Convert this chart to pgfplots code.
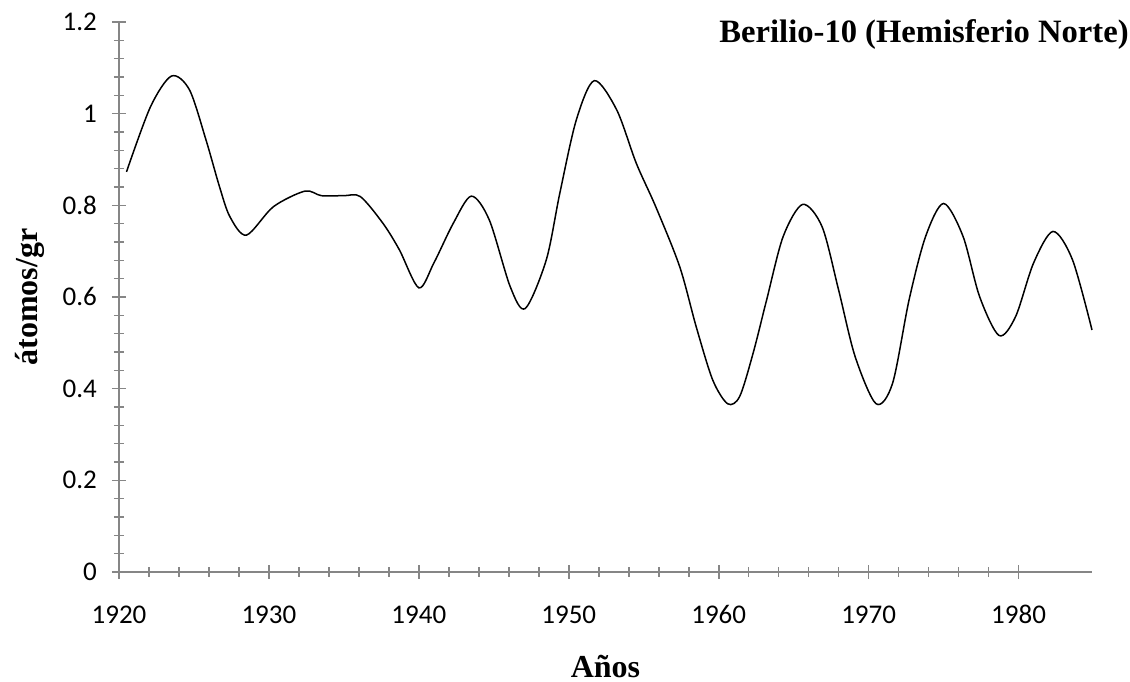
\documentclass[border=0pt]{standalone}
\usepackage{pgfplots}
\pgfplotsset{compat=1.18}
\usepackage{fontspec}
\setmainfont{Carlito}
\newfontfamily\timesbf{Liberation Serif}
\definecolor{axgray}{HTML}{868686}
\newcommand\tkf{\fontsize{13.5}{15}\selectfont}

\begin{document}
\begin{tikzpicture}
\begin{axis}[
  name=ax,
  scale only axis,
  width=486.5pt, height=275pt,
  xmin=1920, xmax=1984.9,
  ymin=0, ymax=1.2,
  axis x line*=bottom,
  axis y line*=left,
  axis line style={axgray, line width=1pt},
  xtick={1920,1930,1940,1950,1960,1970,1980},
  xticklabels={{\tkf 1920},{\tkf 1930},{\tkf 1940},{\tkf 1950},{\tkf 1960},{\tkf 1970},{\tkf 1980}},
  ytick={0,0.2,0.4,0.6,0.8,1,1.2},
  yticklabels={{\tkf 0},{\tkf 0.2},{\tkf 0.4},{\tkf 0.6},{\tkf 0.8},{\tkf 1},{\tkf 1.2}},
  minor x tick num=4,
  minor y tick num=4,
  tick align=center,
  major tick length=7pt,
  minor tick length=5pt,
  every tick/.style={axgray, line width=0.8pt},
  x tick label style={anchor=base, yshift=-22.5pt},
  y tick label style={xshift=-4pt},
  xlabel={\timesbf\bfseries\fontsize{16}{18}\selectfont Años},
  xlabel style={at={([yshift=-53pt]rel axis cs:0.5,0)}, anchor=base},
  ylabel={\timesbf\bfseries\fontsize{16}{18}\selectfont átomos/gr},
  ylabel style={at={([xshift=-44.5pt]rel axis cs:0,0.5)}, anchor=center},
  clip=false,
]
\addplot[black, line width=0.75pt, smooth, tension=0.5] coordinates {
  (1920.5,0.873) (1922.1,1.015) (1923.5,1.082) (1924.7,1.052)
  (1925.8,0.943) (1926.7,0.841) (1927.4,0.775) (1928.5,0.735)
  (1930.3,0.797) (1932.4,0.831) (1933.5,0.821) (1935.0,0.821)
  (1936.1,0.819) (1937.6,0.761) (1938.7,0.703) (1940.0,0.620)
  (1941.0,0.674) (1942.3,0.761) (1943.5,0.820) (1944.7,0.768)
  (1946.1,0.622) (1947.1,0.575) (1948.5,0.681) (1949.4,0.826)
  (1950.5,0.986) (1951.7,1.072) (1953.2,1.008) (1954.5,0.892)
  (1955.8,0.797) (1957.4,0.666) (1958.5,0.535) (1959.6,0.419)
  (1960.6,0.367) (1961.4,0.383) (1962.3,0.478) (1963.2,0.594)
  (1964.3,0.732) (1965.6,0.802) (1966.9,0.753) (1968.0,0.615)
  (1969.1,0.470) (1970.5,0.367) (1971.6,0.412) (1972.7,0.594)
  (1973.8,0.732) (1975.0,0.804) (1976.3,0.732) (1977.4,0.601)
  (1978.7,0.516) (1979.8,0.557) (1981.0,0.674) (1982.3,0.743)
  (1983.6,0.681) (1984.9,0.528)
};
\node[anchor=north east, inner sep=0pt, font=\timesbf\bfseries\fontsize{16.3}{18}\selectfont]
  at ([xshift=18.5pt, yshift=1.5pt]rel axis cs:1,1) {Berilio-10 (Hemisferio Norte)};
\end{axis}
\pgfresetboundingbox
\path ([xshift=-59.5pt, yshift=-55pt]ax.south west) rectangle ([xshift=19pt, yshift=11pt]ax.north east);
\end{tikzpicture}
\end{document}
